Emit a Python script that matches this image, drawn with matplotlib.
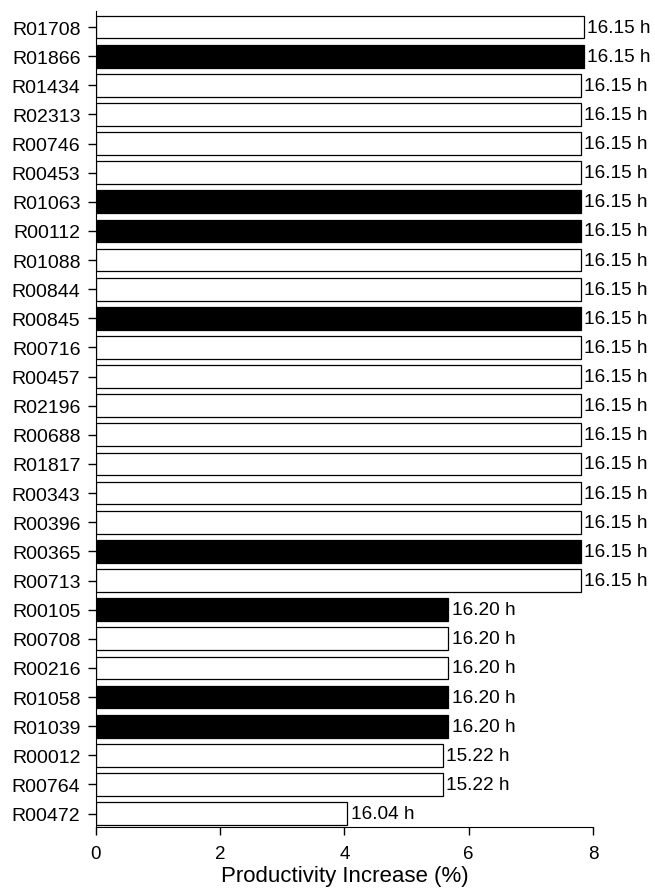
import matplotlib
matplotlib.use("Agg")
import matplotlib.pyplot as plt
import numpy as np

plt.rcParams["font.family"] = ["Liberation Sans", "DejaVu Sans"]

# reactions, top to bottom
reactions = ["R01708", "R01866", "R01434", "R02313", "R00746", "R00453", "R01063",
             "R00112", "R01088", "R00844", "R00845", "R00716", "R00457", "R02196",
             "R00688", "R01817", "R00343", "R00396", "R00365", "R00713", "R00105",
             "R00708", "R00216", "R01058", "R01039", "R00012", "R00764", "R00472"]
increase = [7.85, 7.85, 7.80, 7.80, 7.80, 7.80, 7.80, 7.80, 7.80, 7.80, 7.80, 7.80,
            7.80, 7.80, 7.80, 7.80, 7.80, 7.80, 7.80, 7.80, 5.67, 5.67, 5.67, 5.67,
            5.67, 5.58, 5.58, 4.05]
hours = ["16.15 h"] * 20 + ["16.20 h"] * 5 + ["15.22 h"] * 2 + ["16.04 h"]
filled = ["R01866", "R01063", "R00112", "R00845", "R00365", "R00105", "R01058", "R01039"]

n = len(reactions)
y = np.arange(n)[::-1]
colors = ["black" if r in filled else "white" for r in reactions]

fig = plt.figure(figsize=(6.55, 8.95), dpi=100)
ax = fig.add_axes([0.1461, 0.0749, 0.7592, 0.9117])
ax.barh(y, increase, height=0.78, color=colors, edgecolor="black", linewidth=0.9)
for yi, v, h in zip(y, increase, hours):
    ax.text(v + 0.06, yi, h, va="center", ha="left", fontsize=13.7)

ax.set_xlim(0, 8)
ax.set_ylim(-0.46, n - 1 + 0.55)
ax.set_yticks(y)
ax.set_yticklabels(reactions, fontsize=14)
ax.set_xticks([0, 2, 4, 6, 8])
ax.tick_params(axis="x", labelsize=13.5, length=6, width=1, pad=7)
ax.tick_params(axis="y", length=6, width=1, pad=5)
ax.set_xlabel("Productivity Increase (%)", fontsize=16, labelpad=2)
ax.spines["top"].set_visible(False)
ax.spines["right"].set_visible(False)

fig.savefig("out.png", dpi=100)
